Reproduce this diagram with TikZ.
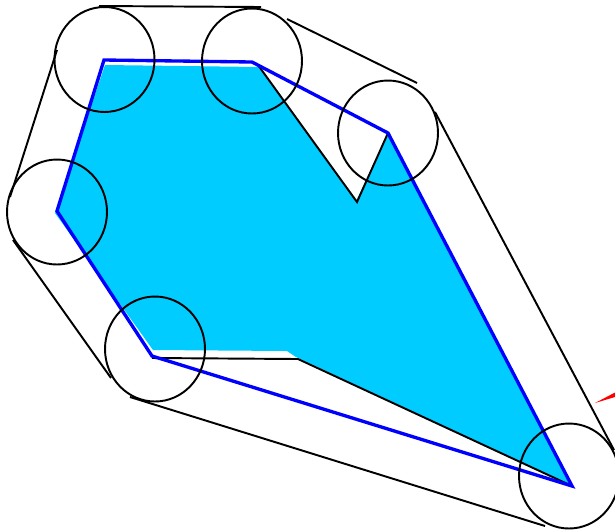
\documentclass[tikz,border=0pt]{standalone}
\usepackage{tikz}
\definecolor{hullblue}{HTML}{0000FF}
\definecolor{areacyan}{HTML}{00CCFF}
\definecolor{tipred}{HTML}{FF0000}

\begin{document}
\begin{tikzpicture}[x=0.02cm,y=-0.02cm,
    hull/.style={line width=1.9pt,hullblue,line join=miter},
    edge/.style={line width=1.1pt,black},
    disc/.style={line width=1.1pt,black}]
  \useasboundingbox (0,0) rectangle (615,529);
  % vertices of the convex hull
  \coordinate (A) at (104,60);
  \coordinate (B) at (252,62);
  \coordinate (C) at (388,133);
  \coordinate (E) at (572,486);
  \coordinate (F) at (152,356);
  \coordinate (G) at (57,211);
  % inner (concave) points
  \coordinate (Bi) at (258,65);
  \coordinate (D) at (357,202);
  \coordinate (Fi) at (152,358);
  \coordinate (H) at (298,359);
  % filled shape
  \fill[areacyan] (105,65) -- (259,67) -- (356,201) -- (388,134) -- (572,486)
    -- (296,357) -- (287,351) -- (153,350) -- (55,213) -- cycle;
  \draw[edge] (Bi) -- (D) -- (C);
  \draw[edge] (Fi) -- (H) -- (E);
  \draw[hull] (A) -- (B) -- (C) -- (E) -- (F) -- (G) -- cycle;
  % circles round the vertices
  \coordinate (cA) at (104.5,59.5);
  \coordinate (cB) at (252,61);
  \coordinate (cC) at (388,133);
  \coordinate (cE) at (569,476);
  \coordinate (cF) at (155,349);
  \coordinate (cG) at (57,212);
  \foreach \c in {cA,cB,cC,cE,cF,cG}
    \draw[disc] (\c) ellipse [x radius=1cm, y radius=1.05cm];
  % outer tangent lines
  \coordinate (t1) at (99,6);   \coordinate (t2) at (261,7);
  \coordinate (t3) at (287,19); \coordinate (t4) at (417,83);
  \coordinate (t5) at (435,112);\coordinate (t6) at (614,450);
  \coordinate (t7) at (545,526);\coordinate (t8) at (130,397);
  \coordinate (t9) at (111,378);\coordinate (t10) at (13,240);
  \coordinate (t11) at (10,197);\coordinate (t12) at (57,50);
  \draw[edge] (t1) -- (t2);
  \draw[edge] (t3) -- (t4);
  \draw[edge] (t5) -- (t6);
  \draw[edge] (t7) -- (t8);
  \draw[edge] (t9) -- (t10);
  \draw[edge] (t11) -- (t12);
  % red tip at the border
  \coordinate (r0) at (595,403);
  \fill[tipred] (r0) -- (615,392.5) -- (615,397) -- cycle;
\end{tikzpicture}
\end{document}
